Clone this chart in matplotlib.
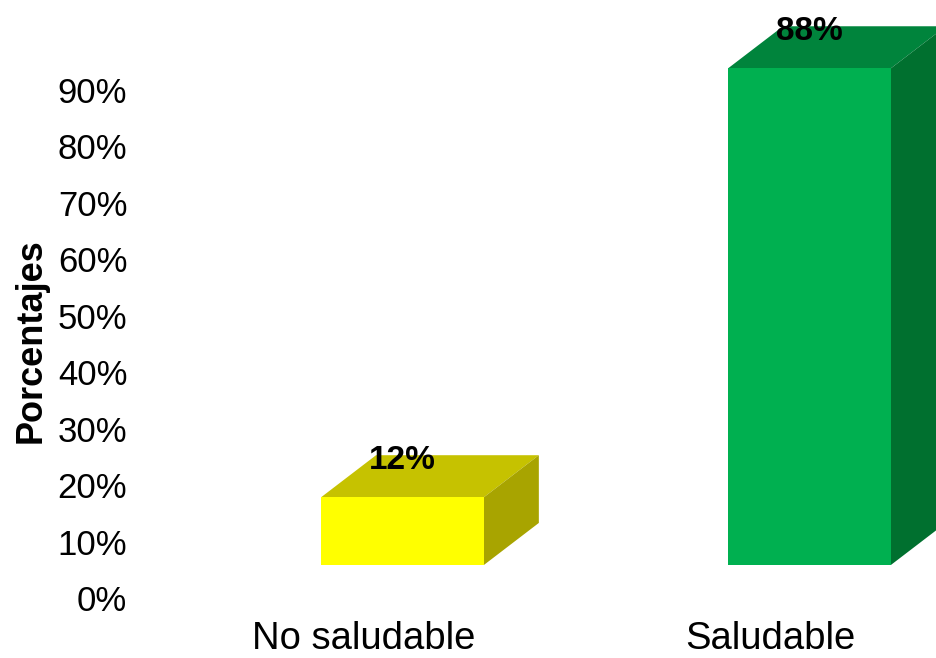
import matplotlib
matplotlib.use("Agg")
import matplotlib.pyplot as plt
from matplotlib.patches import Polygon

plt.rcParams["font.family"] = ["Liberation Sans", "DejaVu Sans"]

# Data
categories = ["No saludable", "Saludable"]
values = [12, 88]
value_labels = ["12%", "88%"]
ytick_values = [0, 10, 20, 30, 40, 50, 60, 70, 80, 90]
ytick_labels = [f"{v}%" for v in ytick_values]

# Face colours: front, top, side
front_colors = ["#FFFF00", "#00B050"]
top_colors = ["#C6C200", "#00843C"]
side_colors = ["#A8A400", "#00702F"]

# Pseudo-3D geometry (data units)
bar_width = 0.40
depth_x = 0.135
depth_y = 7.45
floor = 5.85

W, H = 937, 658
fig = plt.figure(figsize=(W / 100, H / 100), dpi=100)

# axes placed so that 1 category unit = 407 px and 1 % = 5.644 px
ax_left_px, ax_right_px = 135, 937
ax_bottom_px = 598
y_max = 105
px_per_pct = 5.644
ax_h_px = y_max * px_per_pct
ax = fig.add_axes([ax_left_px / W, (H - ax_bottom_px) / H,
                   (ax_right_px - ax_left_px) / W, ax_h_px / H])

x_positions = list(range(len(categories)))
px_per_unit = 407
ax.set_xlim(-(402.5 - ax_left_px) / px_per_unit,
            1 + (ax_right_px - 809.5) / px_per_unit)
ax.set_ylim(0, y_max)

for i, (x, v) in enumerate(zip(x_positions, values)):
    x0 = x - bar_width / 2
    x1 = x + bar_width / 2
    y0 = floor
    y1 = floor + v
    # front face
    ax.bar(x, v, width=bar_width, bottom=floor, color=front_colors[i],
           edgecolor="none", zorder=3)
    # top face
    ax.add_patch(Polygon([(x0, y1), (x1, y1), (x1 + depth_x, y1 + depth_y),
                          (x0 + depth_x, y1 + depth_y)],
                         closed=True, facecolor=top_colors[i],
                         edgecolor="none", zorder=2))
    # side face
    ax.add_patch(Polygon([(x1, y0), (x1 + depth_x, y0 + depth_y),
                          (x1 + depth_x, y1 + depth_y), (x1, y1)],
                         closed=True, facecolor=side_colors[i],
                         edgecolor="none", zorder=2))
    # value label
    ax.annotate(value_labels[i], xy=(x, y1), xytext=(0, 26.5),
                textcoords="offset points", ha="center", va="center",
                fontsize=24, fontweight="bold", color="black", zorder=5,
                annotation_clip=False)

ax.set_yticks(ytick_values)
ax.set_yticklabels(ytick_labels)
ax.set_xticks([x - 0.096 for x in x_positions])
ax.set_xticklabels(categories)
ax.tick_params(axis="y", length=0, pad=5.5, labelsize=25)
ax.tick_params(axis="x", length=0, pad=16.5, labelsize=27.5)
for s in ax.spines.values():
    s.set_visible(False)

fig.text(31 / W, 1 - 341 / H, "Porcentajes", rotation=90, ha="center",
         va="center", fontsize=26, fontweight="bold")

fig.savefig("out.png", dpi=100)
